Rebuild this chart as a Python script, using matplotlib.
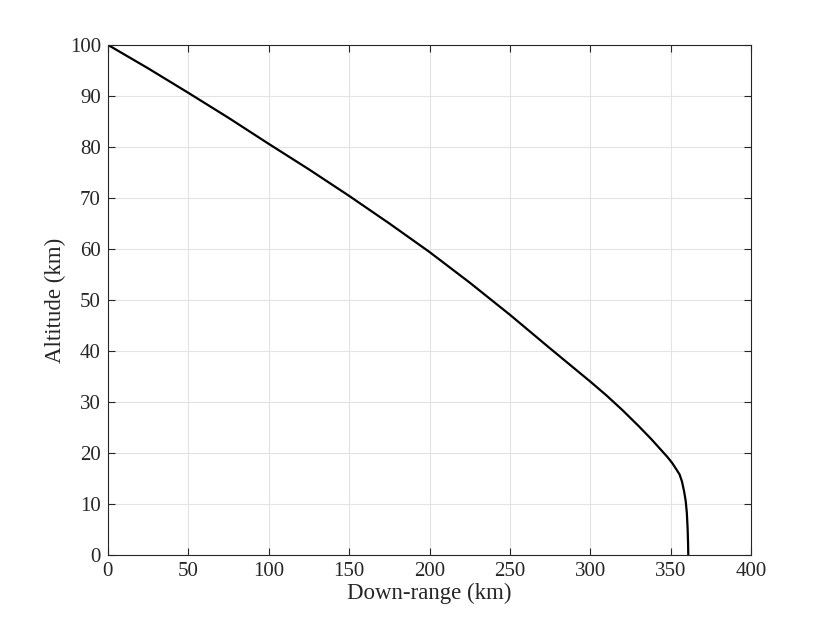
import numpy as np
import matplotlib.pyplot as plt

# trajectory (down-range km, altitude km)
downrange = [0, 25, 50, 75, 100, 125, 150, 175, 200, 225, 250, 275, 300,
             310, 320, 330, 338, 344, 348, 351, 353.5, 355.5, 357, 358.3,
             359.3, 360, 360.5, 360.8, 360.9]
altitude = [100, 95.4, 90.6, 85.7, 80.6, 75.6, 70.4, 65, 59.4, 53.4, 47.1,
            40.5, 34, 31.3, 28.4, 25.3, 22.7, 20.6, 19.2, 18, 16.8, 15.8,
            14.4, 12.5, 10.6, 8.3, 5.2, 2, 0]

xticks = [0, 50, 100, 150, 200, 250, 300, 350, 400]
yticks = [0, 10, 20, 30, 40, 50, 60, 70, 80, 90, 100]

plt.rcParams['font.family'] = ['Liberation Serif', 'DejaVu Serif']

fig = plt.figure(figsize=(8.3, 6.23), dpi=100)
ax = fig.add_axes([0.130, 0.109, 0.775, 0.819])

ax.plot(downrange, altitude, color='black', linewidth=1.6)

ax.set_xlim(0, 400)
ax.set_ylim(0, 100)
ax.set_xticks(xticks)
ax.set_yticks(yticks)
ax.grid(True, color='#e3e3e3', linewidth=0.8)
ax.set_axisbelow(True)

ax.tick_params(direction='in', top=True, right=True, length=5, width=0.8,
               colors='#262626', labelsize=15, pad=5)
for s in ax.spines.values():
    s.set_color('#262626')
    s.set_linewidth(0.8)

ax.set_xlabel('Down-range (km)', fontsize=16.5, color='#262626', labelpad=1)
ax.set_ylabel('Altitude (km)', fontsize=16.5, color='#262626', labelpad=3)

fig.savefig('out.png', dpi=100)
